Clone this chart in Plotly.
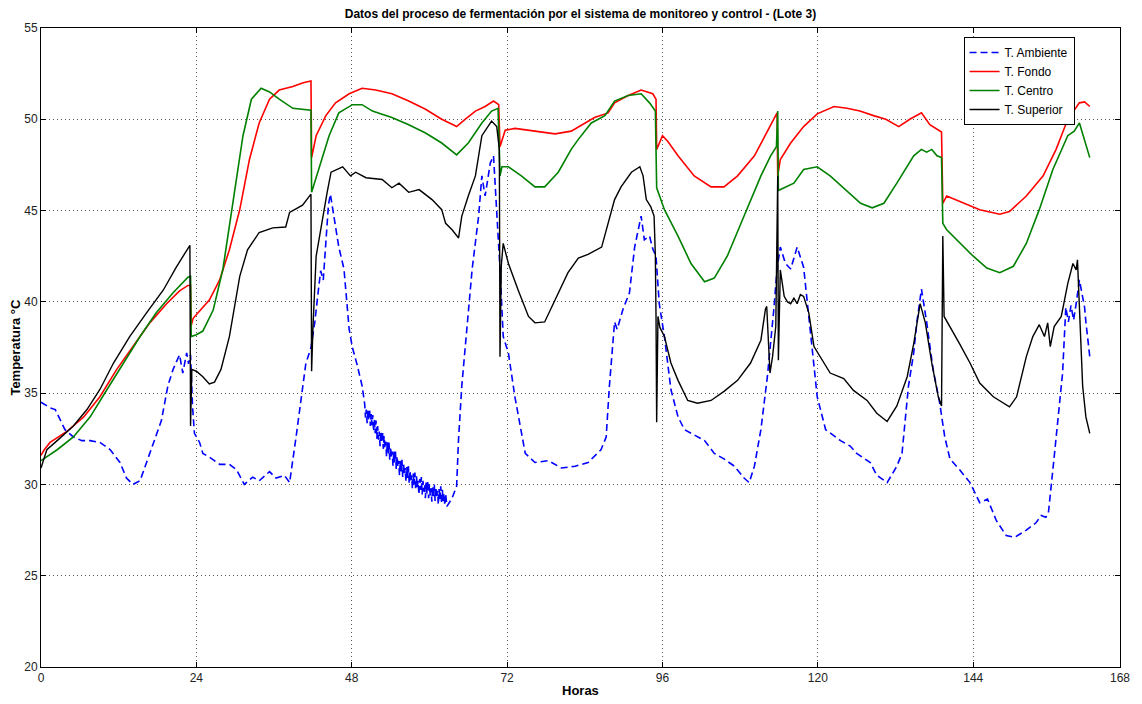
import plotly.graph_objects as go

# ---------------- data ----------------
hours_amb = [0.0, 1.4, 2.2, 3.0, 3.7, 5.0, 6.3, 7.6, 9.1, 10.7, 12.2, 13.2, 14.2, 15.3, 16.3, 17.6,
             18.6, 19.6, 20.4, 21.4, 21.9, 22.5, 22.8, 23.1, 23.4, 23.7, 24.5, 25.0, 26.0, 27.6,
             29.1, 30.2, 31.4, 32.7, 33.7, 35.3, 36.3, 37.6, 38.4, 39.4, 40.4, 40.9, 41.7, 42.3,
             42.8, 43.2, 43.6, 44.0, 44.4, 44.7, 45.3, 46.0, 46.8, 47.6, 48.1, 48.8, 49.6,
             50.0, 50.125, 50.25, 50.375, 50.5, 50.625, 50.75, 50.875, 51.0, 51.125, 51.25, 51.375,
             51.5, 51.625, 51.75, 51.875, 52.0, 52.125, 52.25, 52.375, 52.5, 52.625, 52.75, 52.875,
             53.0, 53.125, 53.25, 53.375, 53.5, 53.625, 53.75, 53.875, 54.0, 54.125, 54.25, 54.375,
             54.5, 54.625, 54.75, 54.875, 55.0, 55.125, 55.25, 55.375, 55.5, 55.625, 55.75, 55.875,
             56.0, 56.125, 56.25, 56.375, 56.5, 56.625, 56.75, 56.875, 57.0, 57.125, 57.25, 57.375,
             57.5, 57.625, 57.75, 57.875, 58.0, 58.125, 58.25, 58.375, 58.5, 58.625, 58.75, 58.875,
             59.0, 59.125, 59.25, 59.375, 59.5, 59.625, 59.75, 59.875, 60.0, 60.125, 60.25, 60.375,
             60.5, 60.625, 60.75, 60.875, 61.0, 61.125, 61.25, 61.375, 61.5, 61.625, 61.75, 61.875,
             62.0, 62.125, 62.25, 62.375, 62.5,
             62.7, 63.5, 64.2, 64.5, 65.0, 66.0, 66.6, 67.6, 68.1, 68.6, 69.4, 69.9, 70.4, 70.9,
             71.4, 72.2, 73.2, 74.8, 76.3, 78.4, 80.4, 82.5, 84.5, 86.5, 87.3, 87.8, 88.6, 89.0,
             89.9, 90.9, 91.7, 92.5, 92.7, 93.2, 94.0, 94.5, 95.0, 95.5, 96.3, 97.3, 98.4, 99.4,
             101.4, 102.5, 104.0, 105.5, 107.1, 108.6, 109.4, 110.2, 111.2, 112.2, 113.2, 113.7,
             114.2, 115.0, 115.8, 116.8, 117.8, 118.9, 119.9, 121.2, 123.5, 125.0, 126.0, 128.1,
             129.1, 130.7, 132.2, 133.0, 134.0, 134.8, 135.3, 136.0, 136.8, 137.8, 138.8, 139.6,
             140.4, 141.9, 143.5, 145.0, 146.2, 147.6, 149.1, 150.4, 152.2, 153.7, 154.5, 155.2,
             155.6, 156.5, 157.8, 158.3, 158.7, 159.1, 159.5, 159.9, 160.4, 161.2, 161.4, 162.0]
temp_amb = [34.5, 34.2, 34.1, 33.5, 33.0, 32.6, 32.4, 32.4, 32.3, 31.9, 31.2, 30.35, 30.0, 30.2, 31.2, 32.6,
            33.5, 35.4, 36.3, 37.1, 36.1, 37.2, 36.6, 37.1, 34.3, 32.8, 32.3, 31.7, 31.5, 31.1,
            31.1, 30.8, 30.0, 30.4, 30.2, 30.7, 30.35, 30.5, 30.1, 32.6, 35.2, 36.6, 37.5, 38.9,
            40.5, 41.7, 41.2, 43.5, 45.3, 45.9, 44.6, 43.0, 41.8, 38.5, 37.5, 36.6, 35.4,
            34.4, 33.65, 34.1, 33.35, 34.1, 33.5, 34.15, 33.2, 33.85, 33.25, 33.8, 32.9,
            33.55, 32.8, 33.5, 32.5, 33.2, 32.45, 32.9, 32.1, 32.9, 32.3, 32.9, 31.95,
            32.65, 32.0, 32.35, 31.55, 32.35, 31.7, 32.3, 31.35, 32.05, 31.45, 31.8, 31.0,
            31.8, 31.2, 31.8, 30.85, 31.55, 30.95, 31.3, 30.5, 31.3, 30.7, 31.35, 30.4,
            31.15, 30.55, 30.9, 30.15, 30.95, 30.35, 31.0, 30.05, 30.75, 30.15, 30.5, 29.75,
            30.6, 30.0, 30.65, 29.7, 30.45, 29.85, 30.2, 29.45, 30.3, 29.7, 30.4, 29.45,
            30.2, 29.6, 30.0, 29.25, 30.1, 29.5, 30.2, 29.25, 30.0, 29.4, 29.8, 29.05,
            29.9, 29.3, 30.0, 29.1, 29.85, 29.25, 29.65, 28.9, 29.75, 29.2, 29.9, 28.95,
            29.7, 29.1, 29.5, 28.85, 29.5,
            28.8, 29.25, 29.9, 32.5, 35.4, 39.6, 41.8, 44.7, 46.9, 45.8, 47.6, 48.0, 45.0, 41.8,
            38.1, 37.2, 34.8, 31.7, 31.2, 31.3, 30.9, 31.0, 31.2, 31.9, 32.6, 35.4, 38.9, 38.5,
            39.6, 40.5, 43.0, 44.5, 44.7, 43.4, 43.6, 42.9, 42.5, 39.9, 38.1, 35.2, 33.7, 33.0,
            32.6, 32.4, 31.7, 31.4, 31.0, 30.35, 30.1, 31.0, 33.0, 35.9, 39.6, 41.8,
            43.0, 42.1, 41.8, 43.0, 41.9, 38.1, 34.8, 33.0, 32.4, 32.1, 31.7, 31.2,
            30.5, 30.1, 31.0, 31.7, 35.4, 37.2, 38.9, 40.7, 38.9, 36.3, 34.5, 32.6,
            31.4, 30.8, 30.1, 29.0, 29.2, 28.0, 27.2, 27.1, 27.5, 27.9, 28.3, 28.2,
            28.4, 31.5, 36.1, 39.7, 38.9, 39.8, 39.0, 39.9, 41.2, 39.7, 38.9, 37.0]

hours_fondo = [0.0, 0.5, 1.4, 4.0, 6.6, 9.1, 11.7, 14.2, 16.8, 19.4, 21.4, 22.7, 23.1, 23.2, 23.5,
               24.5, 26.0, 27.6, 29.1, 30.7, 32.2, 33.7, 35.3, 36.8, 38.9, 40.5, 41.7, 41.8, 42.5,
               44.0, 45.5, 47.6, 49.6, 51.7, 54.2, 56.8, 59.4, 61.9, 64.2, 65.5, 67.1, 68.6, 69.9,
               70.7, 70.9, 71.7, 73.2, 76.3, 79.4, 81.9, 84.5, 85.5, 87.6, 88.6, 90.7, 92.7, 94.5,
               95.0, 95.1, 96.0, 96.8, 98.4, 100.9, 103.5, 105.5, 107.6, 110.2, 112.2, 113.7,
               113.8, 114.2, 115.8, 117.8, 119.9, 122.5, 124.5, 126.5, 128.6, 130.5, 132.5,
               134.2, 136.0, 137.3, 139.1, 139.3, 139.9, 142.5, 145.0, 148.1, 149.6, 152.2,
               154.8, 156.8, 158.6, 160.4, 161.2, 162.0]
temp_fondo = [31.6, 31.9, 32.3, 32.9, 33.7, 34.8, 36.3, 37.55, 38.85, 39.9, 40.6, 40.9, 40.9, 38.7, 39.1,
              39.5, 40.1, 41.2, 42.85, 45.05, 47.8, 49.8, 51.1, 51.6, 51.8, 52.0, 52.1, 47.9, 49.1,
              50.2, 50.9, 51.4, 51.7, 51.6, 51.4, 51.0, 50.55, 50.0, 49.6, 50.0, 50.45, 50.7, 51.0,
              50.8, 48.5, 49.4, 49.5, 49.35, 49.2, 49.35, 49.9, 50.1, 50.35, 50.9, 51.3, 51.6, 51.4,
              51.1, 48.35, 49.1, 48.8, 48.0, 46.9, 46.3, 46.3, 46.9, 48.0, 49.3, 50.35,
              46.9, 47.8, 48.7, 49.6, 50.3, 50.7, 50.6, 50.45, 50.2, 50.0, 49.6,
              50.0, 50.35, 49.7, 49.3, 45.4, 45.8, 45.4, 45.05, 44.8, 44.95, 45.8,
              46.9, 48.35, 50.0, 50.9, 50.95, 50.7]

hours_centro = [0.0, 2.5, 5.0, 7.6, 10.2, 12.7, 15.3, 17.8, 20.4, 22.7, 23.1, 23.2, 24.0, 25.0, 26.6,
                28.1, 29.6, 31.2, 32.5, 34.0, 35.3, 36.8, 38.9, 41.7, 41.8, 43.0, 44.5, 46.0, 48.1,
                49.6, 51.2, 54.2, 56.8, 59.4, 61.9, 64.2, 66.0, 68.1, 69.6, 70.6, 70.9, 71.2, 72.2,
                74.2, 76.3, 77.8, 79.9, 81.9, 83.0, 85.0, 87.1, 88.6, 90.7, 92.7, 94.0, 94.9, 95.1,
                96.3, 98.4, 100.4, 102.5, 104.0, 106.0, 108.6, 111.2, 112.7, 113.6, 113.8, 113.9,
                114.8, 116.3, 117.8, 119.9, 121.9, 124.0, 126.6, 128.4, 130.2, 132.2, 134.8, 136.0,
                136.8, 137.6, 138.4, 139.1, 139.3, 139.9, 142.0, 144.0, 146.1, 148.1, 150.2, 152.2,
                154.2, 156.3, 158.6, 159.6, 160.4, 161.2, 162.0]
temp_centro = [31.3, 31.9, 32.6, 33.7, 35.2, 36.65, 38.1, 39.4, 40.5, 41.35, 41.4, 38.1, 38.2, 38.4, 39.55,
               41.8, 45.4, 49.1, 51.1, 51.7, 51.5, 51.1, 50.6, 50.5, 46.0, 47.4, 49.1, 50.35, 50.8,
               50.8, 50.45, 50.1, 49.7, 49.25, 48.7, 48.05, 48.7, 49.8, 50.45, 50.6, 46.9, 47.4, 47.4,
               46.9, 46.3, 46.3, 47.1, 48.35, 48.9, 49.8, 50.2, 51.0, 51.3, 51.4, 50.9, 50.45, 46.25,
               45.05, 43.6, 42.1, 41.1, 41.3, 42.5, 44.7, 46.9, 48.0, 48.5, 50.45, 46.1,
               46.25, 46.5, 47.25, 47.4, 46.9, 46.25, 45.4, 45.15, 45.4, 46.5, 48.0, 48.35,
               48.2, 48.35, 48.0, 47.9, 44.3, 43.95, 43.2, 42.5, 41.85, 41.6, 41.95, 43.2,
               45.05, 47.25, 49.1, 49.35, 49.8, 48.9, 47.9]

hours_sup = [0.0, 0.9, 2.5, 5.0, 7.1, 9.1, 11.2, 13.7, 16.3, 18.9, 20.9, 22.5, 23.0, 23.1, 23.3,
             24.0, 25.0, 26.0, 26.8, 27.8, 29.1, 30.7, 31.9, 33.7, 35.8, 37.8, 38.4, 40.4, 41.7,
             41.8, 42.0, 42.5, 43.5, 44.2, 44.8, 46.6, 47.8, 48.6, 50.2, 52.7, 54.2, 55.3, 56.8,
             58.4, 60.4, 61.9, 62.5, 63.5, 64.5, 65.0, 66.0, 67.1, 68.1, 69.6, 70.4, 70.8, 70.9,
             71.1, 71.4, 72.2, 73.7, 75.3, 76.3, 77.8, 79.4, 81.4, 83.0, 84.5, 86.6, 87.6, 88.6,
             89.6, 91.2, 92.5, 93.0, 93.5, 94.2, 94.7, 94.9, 95.0, 95.1, 95.3, 95.6, 96.3, 97.3,
             98.4, 99.9, 101.4, 103.5, 105.5, 107.6, 109.6, 111.2, 111.9, 112.1, 112.6, 113.0,
             113.5, 113.8, 113.9, 114.2, 114.8, 115.3, 115.8, 116.3, 116.8, 117.3, 117.8, 118.6,
             119.4, 120.4, 121.9, 124.0, 125.5, 127.6, 129.1, 130.7, 132.2, 133.8, 134.8, 135.8,
             136.6, 137.6, 138.6, 139.1, 139.3, 139.5, 140.4, 141.9, 143.5, 145.0, 147.1, 148.6,
             149.6, 150.7, 152.2, 153.2, 154.2, 155.0, 155.5, 155.9, 156.5, 157.6, 158.6, 159.4,
             159.9, 160.1, 160.4, 160.9, 161.4, 162.0]
temp_sup = [30.9, 31.9, 32.4, 33.2, 34.1, 35.2, 36.65, 38.1, 39.4, 40.65, 41.9, 42.85, 43.1, 33.2, 36.3,
            36.2, 35.9, 35.5, 35.6, 36.3, 38.1, 41.4, 42.85, 43.8, 44.05, 44.1, 44.9, 45.3, 45.9,
            36.2, 38.5, 42.5, 44.7, 46.0, 47.1, 47.4, 46.9, 47.1, 46.8, 46.7, 46.25, 46.5, 46.0,
            46.15, 45.6, 45.05, 44.3, 43.95, 43.5, 44.7, 45.8, 46.9, 49.1, 49.9, 49.6, 48.35, 37.0,
            42.0, 43.2, 42.1, 40.65, 39.2, 38.85, 38.9, 40.1, 41.6, 42.4, 42.6, 43.0, 44.3, 45.6,
            46.3, 47.1, 47.4, 46.9, 45.6, 45.2, 44.7, 42.5, 39.2, 33.4, 39.2, 38.6, 38.1, 36.65,
            35.7, 34.6, 34.45, 34.6, 35.1, 35.7, 36.65, 37.9, 39.6, 39.75, 36.1, 37.0,
            38.65, 46.9, 36.8, 41.75, 40.3, 40.0, 39.9, 40.2, 39.9, 40.4, 40.3, 39.4,
            37.55, 37.0, 36.1, 35.8, 35.15, 34.6, 33.9, 33.45, 34.3, 35.9, 37.7, 39.9,
            38.85, 36.65, 34.8, 34.3, 43.6, 39.2, 38.65, 37.7, 36.65, 35.55, 34.8, 34.45,
            34.25, 34.8, 37.0, 38.1, 38.75, 38.1, 38.85, 37.55, 38.65, 39.2, 41.0, 42.1,
            41.75, 42.3, 39.9, 35.4, 33.7, 32.8]

series_names = ["T. Ambiente", "T. Fondo", "T. Centro", "T. Superior"]
x_tick_values = [0, 24, 48, 72, 96, 120, 144, 166.67]
x_tick_labels = ["0", "24", "48", "72", "96", "120", "144", "168"]
y_tick_values = [20, 25, 30, 35, 40, 45, 50, 55]

# ---------------- figure ----------------
FONT = "Liberation Sans Narrow, Arial, Liberation Sans, sans-serif"

fig = go.Figure()
fig.add_trace(go.Scatter(x=hours_amb, y=temp_amb, mode="lines", name=series_names[0],
                         line=dict(color="#0000ff", width=1.6, dash="7px,4px")))
fig.add_trace(go.Scatter(x=hours_fondo, y=temp_fondo, mode="lines", name=series_names[1],
                         line=dict(color="#ff0000", width=1.6)))
fig.add_trace(go.Scatter(x=hours_centro, y=temp_centro, mode="lines", name=series_names[2],
                         line=dict(color="#008000", width=1.6)))
fig.add_trace(go.Scatter(x=hours_sup, y=temp_sup, mode="lines", name=series_names[3],
                         line=dict(color="#000000", width=1.4)))

axis_common = dict(
    showline=True, linecolor="#000000", linewidth=1, mirror="allticks",
    ticks="inside", ticklen=5, tickcolor="#000000",
    showgrid=True, gridcolor="#555555", griddash="1px,3px", gridwidth=1,
    zeroline=False, tickfont=dict(family=FONT, size=12, color="#222222"),
)

fig.update_layout(
    width=1142, height=704,
    margin=dict(l=41, r=18, t=28, b=37),
    paper_bgcolor="#ffffff", plot_bgcolor="#ffffff",
    showlegend=True,
    title=dict(text="<b>Datos del proceso de fermentación por el sistema de monitoreo y control - (Lote 3)</b>",
               font=dict(family=FONT, size=12, color="#000000"),
               x=0.5, xref="paper", xanchor="center", y=1 - 14 / 704, yref="container", yanchor="middle"),
    xaxis=dict(range=[0, 166.67], tickvals=x_tick_values, ticktext=x_tick_labels, **axis_common),
    yaxis=dict(range=[20, 55], tickvals=y_tick_values, **axis_common),
    legend=dict(x=0.855, y=0.986, xanchor="left", yanchor="top",
                bgcolor="#ffffff", bordercolor="#000000", borderwidth=1,
                font=dict(family=FONT, size=12, color="#000000"),
                tracegroupgap=0, itemwidth=30),
    annotations=[
        dict(text="<b>Horas</b>", x=0.5, xref="paper", y=-(690 - 667) / 639, yref="paper",
             xanchor="center", yanchor="middle", showarrow=False,
             font=dict(family=FONT, size=13, color="#000000")),
        dict(text="<b>Temperatura °C</b>", x=-(41 - 15) / 1083, xref="paper", y=0.5, yref="paper",
             xanchor="center", yanchor="middle", textangle=-90, showarrow=False,
             font=dict(family=FONT, size=13, color="#000000")),
    ],
)

fig.write_html("out.html")
